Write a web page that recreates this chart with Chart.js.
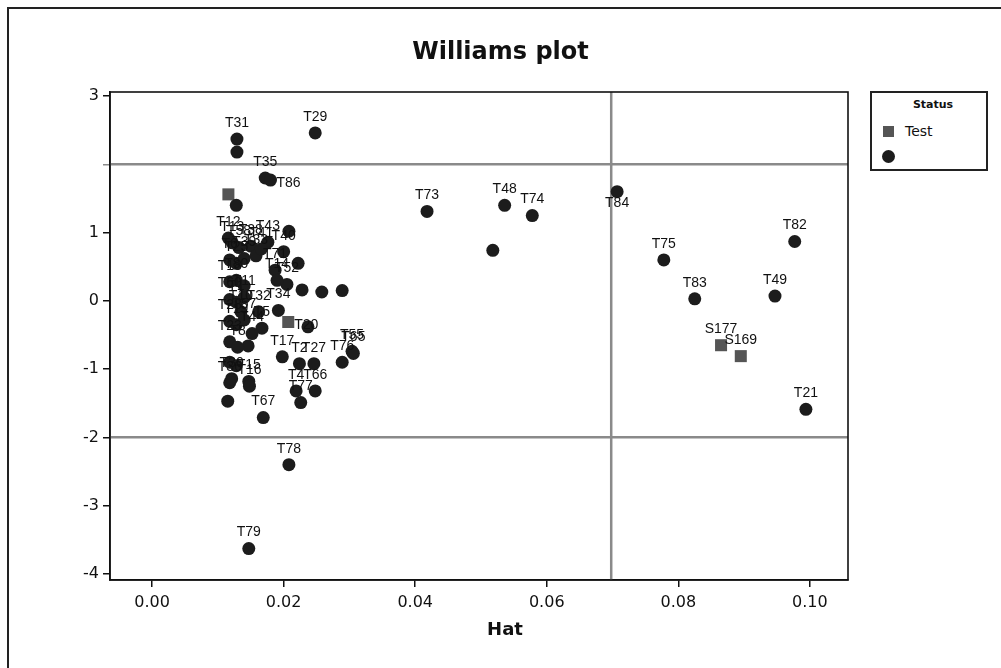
<!DOCTYPE html>
<html><head><meta charset="utf-8">
<script src="https://cdn.jsdelivr.net/npm/chart.js@4"></script>
<style>
html,body{margin:0;padding:0;background:#fff;overflow:hidden;width:1001px;height:668px}
#wrap{position:relative;width:1001px;height:668px;overflow:hidden}
#frame{position:absolute;left:7px;top:7px;width:1100px;height:1000px;border:2px solid #222;box-sizing:border-box;pointer-events:none}
#legend{position:absolute;left:870px;top:91px;width:118px;height:80px;border:2px solid #222;box-sizing:border-box;font-family:'DejaVu Sans',sans-serif;background:#fff;color:#111}
#legend .ttl{position:absolute;left:0;width:100%;top:5px;text-align:center;font-size:11px;padding-left:8px;box-sizing:border-box;font-weight:bold}
#legend .sq{position:absolute;left:11px;top:33px;width:11px;height:11px;background:#555}
#legend .tx{position:absolute;left:33px;top:30px;font-size:14px}
#legend .ci{position:absolute;left:10px;top:57px;width:13px;height:13px;border-radius:50%;background:#1c1c1c}
canvas{position:absolute;left:0;top:0}
</style></head>
<body><div id="wrap">
<canvas id="c" width="1001" height="668"></canvas>
<div id="frame"></div>
<div id="legend"><div class="ttl">Status</div><div class="sq"></div><div class="tx">Test</div><div class="ci"></div></div>
</div>
<script>
// ---- data ----
const trainLabels=['T31','','T29','T35','T86','','T73','T48','T74','','T84','T75','T82','T83','T49','T21','T55','T65','T76','T78','T79','T67','T43','','T40','','T71','','','','T52','T14','','T17','T2','T27','T4','T66','T77','T5','T44','','T10','T32','T34','T12','T13','T58','T38','T6','T25','T39','T33','T41','T18','T80','','T60','T1','T11','T28','T19','T57','T23','T8','','','T36','T30','T15','T16',''];
const trainHat=[0.0129,0.0129,0.0248,0.0172,0.0180,0.0128,0.0418,0.0536,0.0578,0.0518,0.0707,0.0778,0.0977,0.0825,0.0947,0.0994,0.0304,0.0306,0.0289,0.0208,0.0147,0.0169,0.0176,0.0208,0.0200,0.0222,0.0187,0.0228,0.0258,0.0289,0.0205,0.0190,0.0237,0.0198,0.0224,0.0246,0.0219,0.0248,0.0226,0.0167,0.0152,0.0146,0.0135,0.0162,0.0192,0.0116,0.0122,0.0132,0.0150,0.0118,0.0128,0.0140,0.0158,0.0166,0.0118,0.0128,0.0140,0.0118,0.0128,0.0140,0.0118,0.0128,0.0140,0.0118,0.0130,0.0118,0.0128,0.0118,0.0121,0.0147,0.0148,0.0115];
const trainResid=[2.37,2.18,2.46,1.80,1.77,1.40,1.31,1.40,1.25,0.74,1.60,0.60,0.87,0.03,0.07,-1.59,-0.74,-0.77,-0.90,-2.40,-3.63,-1.71,0.86,1.02,0.72,0.55,0.45,0.16,0.13,0.15,0.24,0.30,-0.38,-0.82,-0.92,-0.92,-1.32,-1.32,-1.49,-0.40,-0.48,-0.66,-0.16,-0.16,-0.14,0.92,0.85,0.78,0.80,0.60,0.55,0.62,0.66,0.76,0.28,0.30,0.22,0.02,-0.02,0.05,-0.30,-0.35,-0.28,-0.60,-0.68,-0.90,-0.95,-1.20,-1.14,-1.18,-1.25,-1.47];
const testLabels=['','T20','S177','S169'];
const testHat=[0.0116,0.0207,0.0865,0.0895];
const testResid=[1.56,-0.31,-0.65,-0.81];
const xTicks=[0,0.02,0.04,0.06,0.08,0.10];
const yTicks=[-4,-3,-2,-1,0,1,2,3];
const yTickLabels=['-4','-3','-2','-1','0','1','','3'];
const refY=[2,-2];
const refX=[0.0698];
const xAxisTitle='Hat';

const labelPlace={T84:'below',T86:'right',T20:'right'};

const refPlugin={id:'refs',beforeDatasetsDraw(chart){
  const {ctx,chartArea:a,scales:{x,y}}=chart;
  ctx.save();
  ctx.strokeStyle='#8a8a8a';ctx.lineWidth=2.5;
  refY.forEach(v=>{const p=y.getPixelForValue(v);ctx.beginPath();ctx.moveTo(a.left,p);ctx.lineTo(a.right,p);ctx.stroke();});
  refX.forEach(v=>{const p=x.getPixelForValue(v);ctx.beginPath();ctx.moveTo(p,a.top);ctx.lineTo(p,a.bottom);ctx.stroke();});
  ctx.strokeStyle='#111';ctx.lineWidth=1.6;
  ctx.strokeRect(a.left,a.top,a.right-a.left,a.bottom-a.top);
  ctx.restore();
}};
const labelPlugin={id:'ptLabels',afterDatasetsDraw(chart){
  const ctx=chart.ctx;ctx.save();
  ctx.font='14px "Liberation Sans", Arial, sans-serif';ctx.fillStyle='#111';ctx.textBaseline='middle';
  chart.data.datasets.forEach((ds,i)=>{
    const meta=chart.getDatasetMeta(i);
    meta.data.forEach((el,j)=>{
      const t=ds.pointLabels[j]; if(!t) return;
      let x=el.x,y=el.y-16;ctx.textAlign='center';
      const p=labelPlace[t];
      if(p==='below'){y=el.y+11;}
      else if(p==='right'){ctx.textAlign='left';x=el.x+6;y=el.y+3;}
      ctx.fillText(t,x,y);
    });
  });
  ctx.restore();
}};
const axisTitlePlugin={id:'axTitle',afterDraw(chart){
  const ctx=chart.ctx;ctx.save();
  ctx.font='bold 18px "DejaVu Sans", sans-serif';ctx.fillStyle='#111';ctx.textAlign='center';ctx.textBaseline='middle';
  ctx.fillText(xAxisTitle,505,630);
  ctx.restore();
}};

new Chart(document.getElementById('c'),{
  type:'scatter',
  data:{datasets:[
    {label:'',data:trainHat.map((h,i)=>({x:h,y:trainResid[i]})),pointLabels:trainLabels,pointStyle:'circle',pointRadius:6.5,pointHoverRadius:6.5,backgroundColor:'#1c1c1c',borderWidth:0},
    {label:'Test',data:testHat.map((h,i)=>({x:h,y:testResid[i]})),pointLabels:testLabels,pointStyle:'rect',pointRadius:8.5,pointHoverRadius:8.5,backgroundColor:'#555',borderWidth:0}
  ]},
  options:{
    responsive:false,animation:false,
    layout:{padding:{left:0,right:0,top:0,bottom:0}},
    plugins:{
      legend:{display:false},tooltip:{enabled:false},
      title:{display:true,text:'Williams plot',color:'#111',font:{family:'DejaVu Sans',size:24,weight:'bold'},padding:{top:38,bottom:25.2}}
    },
    scales:{
      x:{type:'linear',min:-0.0064,max:0.1058,
        afterBuildTicks:s=>{s.ticks=xTicks.map(v=>({value:v}));},
        afterFit:s=>{s.height=88;},
        ticks:{callback:v=>Number(v).toFixed(2),font:{family:'DejaVu Sans',size:16},color:'#111',padding:6,maxRotation:0,autoSkip:false},
        grid:{drawOnChartArea:false,drawTicks:true,tickLength:7,color:'#111',lineWidth:1.5},
        border:{color:'#111',width:1.6},
        title:{display:false}
      },
      y:{type:'linear',min:-4.09,max:3.06,
        afterBuildTicks:s=>{s.ticks=yTicks.map(v=>({value:v}));},
        afterFit:s=>{s.width=110;},
        ticks:{callback:v=>yTickLabels[yTicks.indexOf(v)],font:{family:'DejaVu Sans',size:16},color:'#111',padding:4,autoSkip:false},
        grid:{drawOnChartArea:false,drawTicks:true,tickLength:7,lineWidth:1.5,color:c=>(c.tick&&c.tick.value===2)?'#8a8a8a':'#111'},
        border:{color:'#111',width:1.6}
      },
      yRight:{type:'linear',position:'right',display:true,min:0,max:1,
        afterFit:s=>{s.width=153;},
        ticks:{display:false},grid:{display:false,drawTicks:false},border:{display:false}
      }
    }
  },
  plugins:[refPlugin,labelPlugin,axisTitlePlugin]
});
</script>
</body></html>
